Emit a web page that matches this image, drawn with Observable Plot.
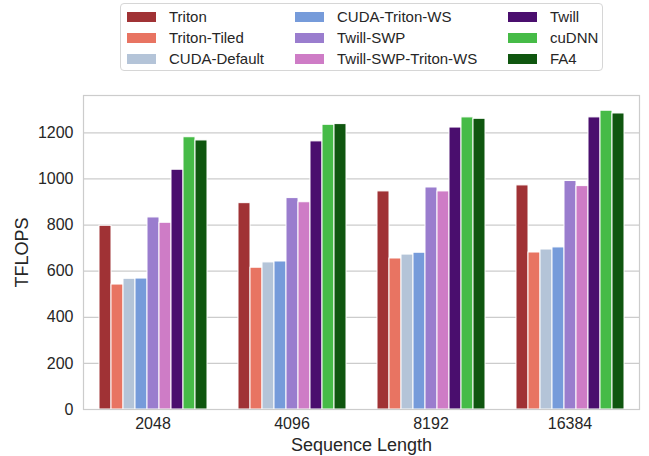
<!DOCTYPE html>
<html>
<head>
<meta charset="utf-8">
<script src="https://cdn.jsdelivr.net/npm/d3@7"></script>
<script src="https://cdn.jsdelivr.net/npm/@observablehq/plot@0.6"></script>
<style>
  html, body { margin: 0; padding: 0; background: white; }
  #wrap { position: relative; width: 649px; height: 456px; font-family: Arial, "Liberation Sans", sans-serif; }
  #legend {
    position: absolute; left: 120px; top: 3px; width: 483px; height: 68px;
    border: 1px solid #d6d6d6; border-radius: 4px; background: white;
    display: grid; grid-auto-flow: column; grid-template-rows: repeat(3, 21px);
    grid-template-columns: 168px 213px auto; padding: 2px 0 0 6px; box-sizing: border-box;
    font-size: 15px; color: #262626; z-index: 2;
  }
  #legend .item { display: flex; align-items: center; white-space: nowrap; }
  #legend .sw { width: 29px; height: 10px; margin-right: 13px; flex: none; }
  g[aria-label="y-axis label"] text, g[aria-label="fx-axis label"] text { font-size: 18px; }
</style>
</head>
<body>
<div id="wrap"><div id="legend"></div></div>
<script>
// ---- data ----
const seqs = ["2048", "4096", "8192", "16384"];
const methods = ["Triton", "Triton-Tiled", "CUDA-Default", "CUDA-Triton-WS", "Twill-SWP", "Twill-SWP-Triton-WS", "Twill", "cuDNN", "FA4"];
const colors = ["#a03235", "#e87462", "#b4c4d8", "#769bda", "#9a7dce", "#ce7cc6", "#4a0e6e", "#46bb47", "#0f560f"];
const triton = [797, 895, 946, 972];
const tritonTiled = [542, 615, 655, 681];
const cudaDefault = [567, 638, 672, 694];
const cudaTritonWS = [568, 642, 680, 703];
const twillSWP = [833, 917, 963, 991];
const twillSWPTritonWS = [810, 899, 946, 969];
const twill = [1040, 1163, 1223, 1267];
const cudnn = [1181, 1235, 1267, 1296];
const fa4 = [1167, 1238, 1261, 1284];
const yTicks = [0, 200, 400, 600, 800, 1000, 1200];
const yMax = 1362;

const series = [triton, tritonTiled, cudaDefault, cudaTritonWS, twillSWP, twillSWPTritonWS, twill, cudnn, fa4];
const rows = [];
methods.forEach((m, i) => seqs.forEach((s, j) => rows.push({seq: s, method: m, value: series[i][j]})));

const chart = Plot.plot({
  width: 649,
  height: 456,
  marginLeft: 82,
  marginRight: 10,
  marginTop: 95,
  marginBottom: 47,
  style: {fontFamily: "Arial, 'Liberation Sans', sans-serif", fontSize: "16px", color: "#262626", background: "white"},
  fx: {domain: seqs, padding: 0, axis: "bottom", label: "Sequence Length", labelAnchor: "center", labelOffset: 41, tickSize: 0, tickPadding: 8},
  x: {domain: methods, paddingInner: 0, paddingOuter: 1.125, axis: null},
  y: {domain: [0, yMax], ticks: yTicks, tickFormat: d => String(d), tickSize: 0, tickPadding: 10, label: "TFLOPS", labelAnchor: "center", labelOffset: 68, labelArrow: "none"},
  color: {domain: methods, range: colors},
  marks: [
    Plot.ruleY(yTicks, {stroke: "#cccccc", strokeWidth: 1.2}),
    Plot.barY(rows, {fx: "seq", x: "method", y: "value", fill: "method", stroke: "white", strokeWidth: 1}),
    Plot.frame({facet: "super", stroke: "#cccccc", strokeWidth: 1.2})
  ]
});
document.getElementById("wrap").appendChild(chart);

const legend = document.getElementById("legend");
methods.forEach((m, i) => {
  const item = document.createElement("div");
  item.className = "item";
  const sw = document.createElement("span");
  sw.className = "sw";
  sw.style.background = colors[i];
  const t = document.createElement("span");
  t.textContent = m;
  item.appendChild(sw); item.appendChild(t);
  legend.appendChild(item);
});
</script>
</body>
</html>
